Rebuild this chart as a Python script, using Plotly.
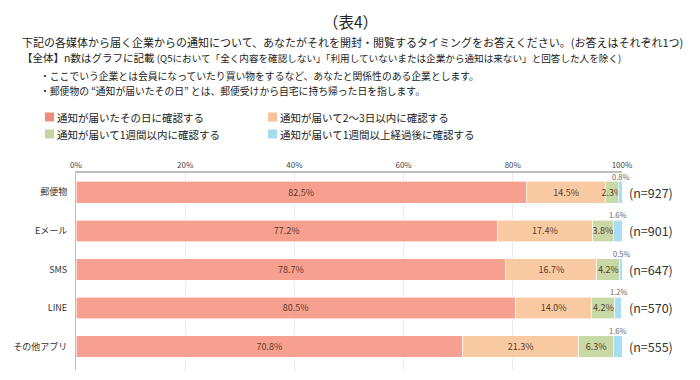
import plotly.graph_objects as go

categories = ["郵便物", "Eメール", "SMS", "LINE", "その他アプリ"]
n_labels = ["(n=927)", "(n=901)", "(n=647)", "(n=570)", "(n=555)"]
series_names = ["通知が届いたその日に確認する", "通知が届いて2～3日以内に確認する",
                "通知が届いて1週間以内に確認する", "通知が届いて1週間以上経過後に確認する"]
same_day = [82.5, 77.2, 78.7, 80.5, 70.8]
within_3days = [14.5, 17.4, 16.7, 14.0, 21.3]
within_week = [2.3, 3.8, 4.2, 4.2, 6.3]
over_week = [0.8, 1.6, 0.5, 1.2, 1.6]
series = [same_day, within_3days, within_week, over_week]
colors = ["#F7A08F", "#F9C9A1", "#C8D9A6", "#A9DEF2"]
legend_colors = ["#F08C7E", "#F8C29A", "#C3D69E", "#A5DCEF"]

FONT = "Noto Sans CJK JP"

# page body has an 8px margin; work in reference pixel coords and shift
OFF = 8
W, H = 700 - OFF, 380 - OFF
L, R, T, B = 76 - OFF, W - (622 - OFF), 173 - OFF, H - (370 - OFF)
pw, ph = W - L - R, H - T - B


def px(x):
    return (x - OFF - L) / pw


def py(y):
    return (H - B - (y - OFF)) / ph


fig = go.Figure()
for i, (name, vals) in enumerate(zip(series_names, series)):
    inside = i < 3
    fig.add_trace(go.Bar(
        y=categories, x=vals, name=name, orientation="h",
        marker=dict(color=colors[i], line=dict(width=0.6, color="white")),
        text=[f"{v:.1f}%" for v in vals] if inside else None,
        textposition="inside" if inside else "none",
        insidetextanchor="middle",
        textangle=0,
        constraintext="none",
        textfont=dict(size=9, color="#5B3B2E", family=FONT),
        width=0.56,
        showlegend=False,
        hoverinfo="skip",
    ))

annotations = []
# small labels above the last segment
for cat, a, b, c, d in zip(categories, same_day, within_3days, within_week, over_week):
    annotations.append(dict(x=a + b + c + d / 2, y=cat, yshift=16, text=f"{d:.1f}%",
                            showarrow=False, xanchor="center", yanchor="middle",
                            font=dict(size=7.5, color="#666", family=FONT)))
# n labels
for cat, nl in zip(categories, n_labels):
    annotations.append(dict(x=1.0, xref="paper", y=cat, xshift=5, text=nl, showarrow=False,
                            xanchor="left", yanchor="middle",
                            font=dict(size=12.5, color="#333", family=FONT)))

title_text = "（表4）"
header_1 = "下記の各媒体から届く企業からの通知について、あなたがそれを開封・閲覧するタイミングをお答えください。(お答えはそれぞれ1つ)"
header_2 = ("【全体】n数はグラフに記載 <span style='font-size:9.6px'>(Q5において「全く内容を確認しない」"
            "「利用していないまたは企業から通知は来ない」と回答した人を除く)</span>")
bullet_1 = "・ここでいう企業とは会員になっていたり買い物をするなど、あなたと関係性のある企業とします。"
bullet_2 = "・郵便物の “通知が届いたその日” とは、郵便受けから自宅に持ち帰った日を指します。"

annotations.append(dict(x=px(350), y=py(8), xref="paper", yref="paper", text=title_text,
                        showarrow=False, xanchor="center", yanchor="top",
                        font=dict(size=15.5, color="#222", family=FONT)))
annotations.append(dict(x=px(20), y=py(42), xref="paper", yref="paper", text=header_1,
                        showarrow=False, xanchor="left", yanchor="middle",
                        font=dict(size=11, color="#222", family=FONT)))
annotations.append(dict(x=px(20), y=py(57), xref="paper", yref="paper", text=header_2,
                        showarrow=False, xanchor="left", yanchor="middle",
                        font=dict(size=10.5, color="#222", family=FONT)))
for yy, bt in ((76, bullet_1), (90.5, bullet_2)):
    annotations.append(dict(x=px(38), y=py(yy), xref="paper", yref="paper", text=bt,
                            showarrow=False, xanchor="left", yanchor="middle",
                            font=dict(size=9.8, color="#222", family=FONT)))

# legend (manual, 2 columns)
shapes = []
leg_pos = [(45, 117), (268, 117), (45, 134), (268, 134)]
for (x, y), name, col in zip(leg_pos, series_names, legend_colors):
    shapes.append(dict(type="rect", xref="paper", yref="paper",
                       x0=px(x), x1=px(x + 9), y0=py(y + 4.5), y1=py(y - 4.5),
                       fillcolor=col, line=dict(width=0)))
    annotations.append(dict(x=px(x + 10), y=py(y), xref="paper", yref="paper", text=name,
                            showarrow=False, xanchor="left", yanchor="middle",
                            font=dict(size=10.5, color="#222", family=FONT)))

fig.update_layout(
    width=W, height=H,
    margin=dict(l=L, r=R, t=T, b=B),
    barmode="stack",
    bargap=0.44,
    plot_bgcolor="white", paper_bgcolor="white",
    shapes=shapes,
    annotations=annotations,
    font=dict(family=FONT),
    xaxis=dict(range=[0, 100], dtick=20, ticksuffix="%", side="top",
               showgrid=True, gridcolor="#EBEBEB", gridwidth=1,
               showline=True, linecolor="#BDBDBD", linewidth=1.5,
               tickfont=dict(size=8, color="#444", family=FONT),
               ticks="", zeroline=False, fixedrange=True, automargin=False),
    yaxis=dict(autorange="reversed", showline=True, linecolor="#BDBDBD", linewidth=1,
               tickfont=dict(size=9, color="#333", family=FONT), ticks="",
               ticklabelstandoff=6, fixedrange=True, automargin=False),
)

fig.write_html("out.html")
